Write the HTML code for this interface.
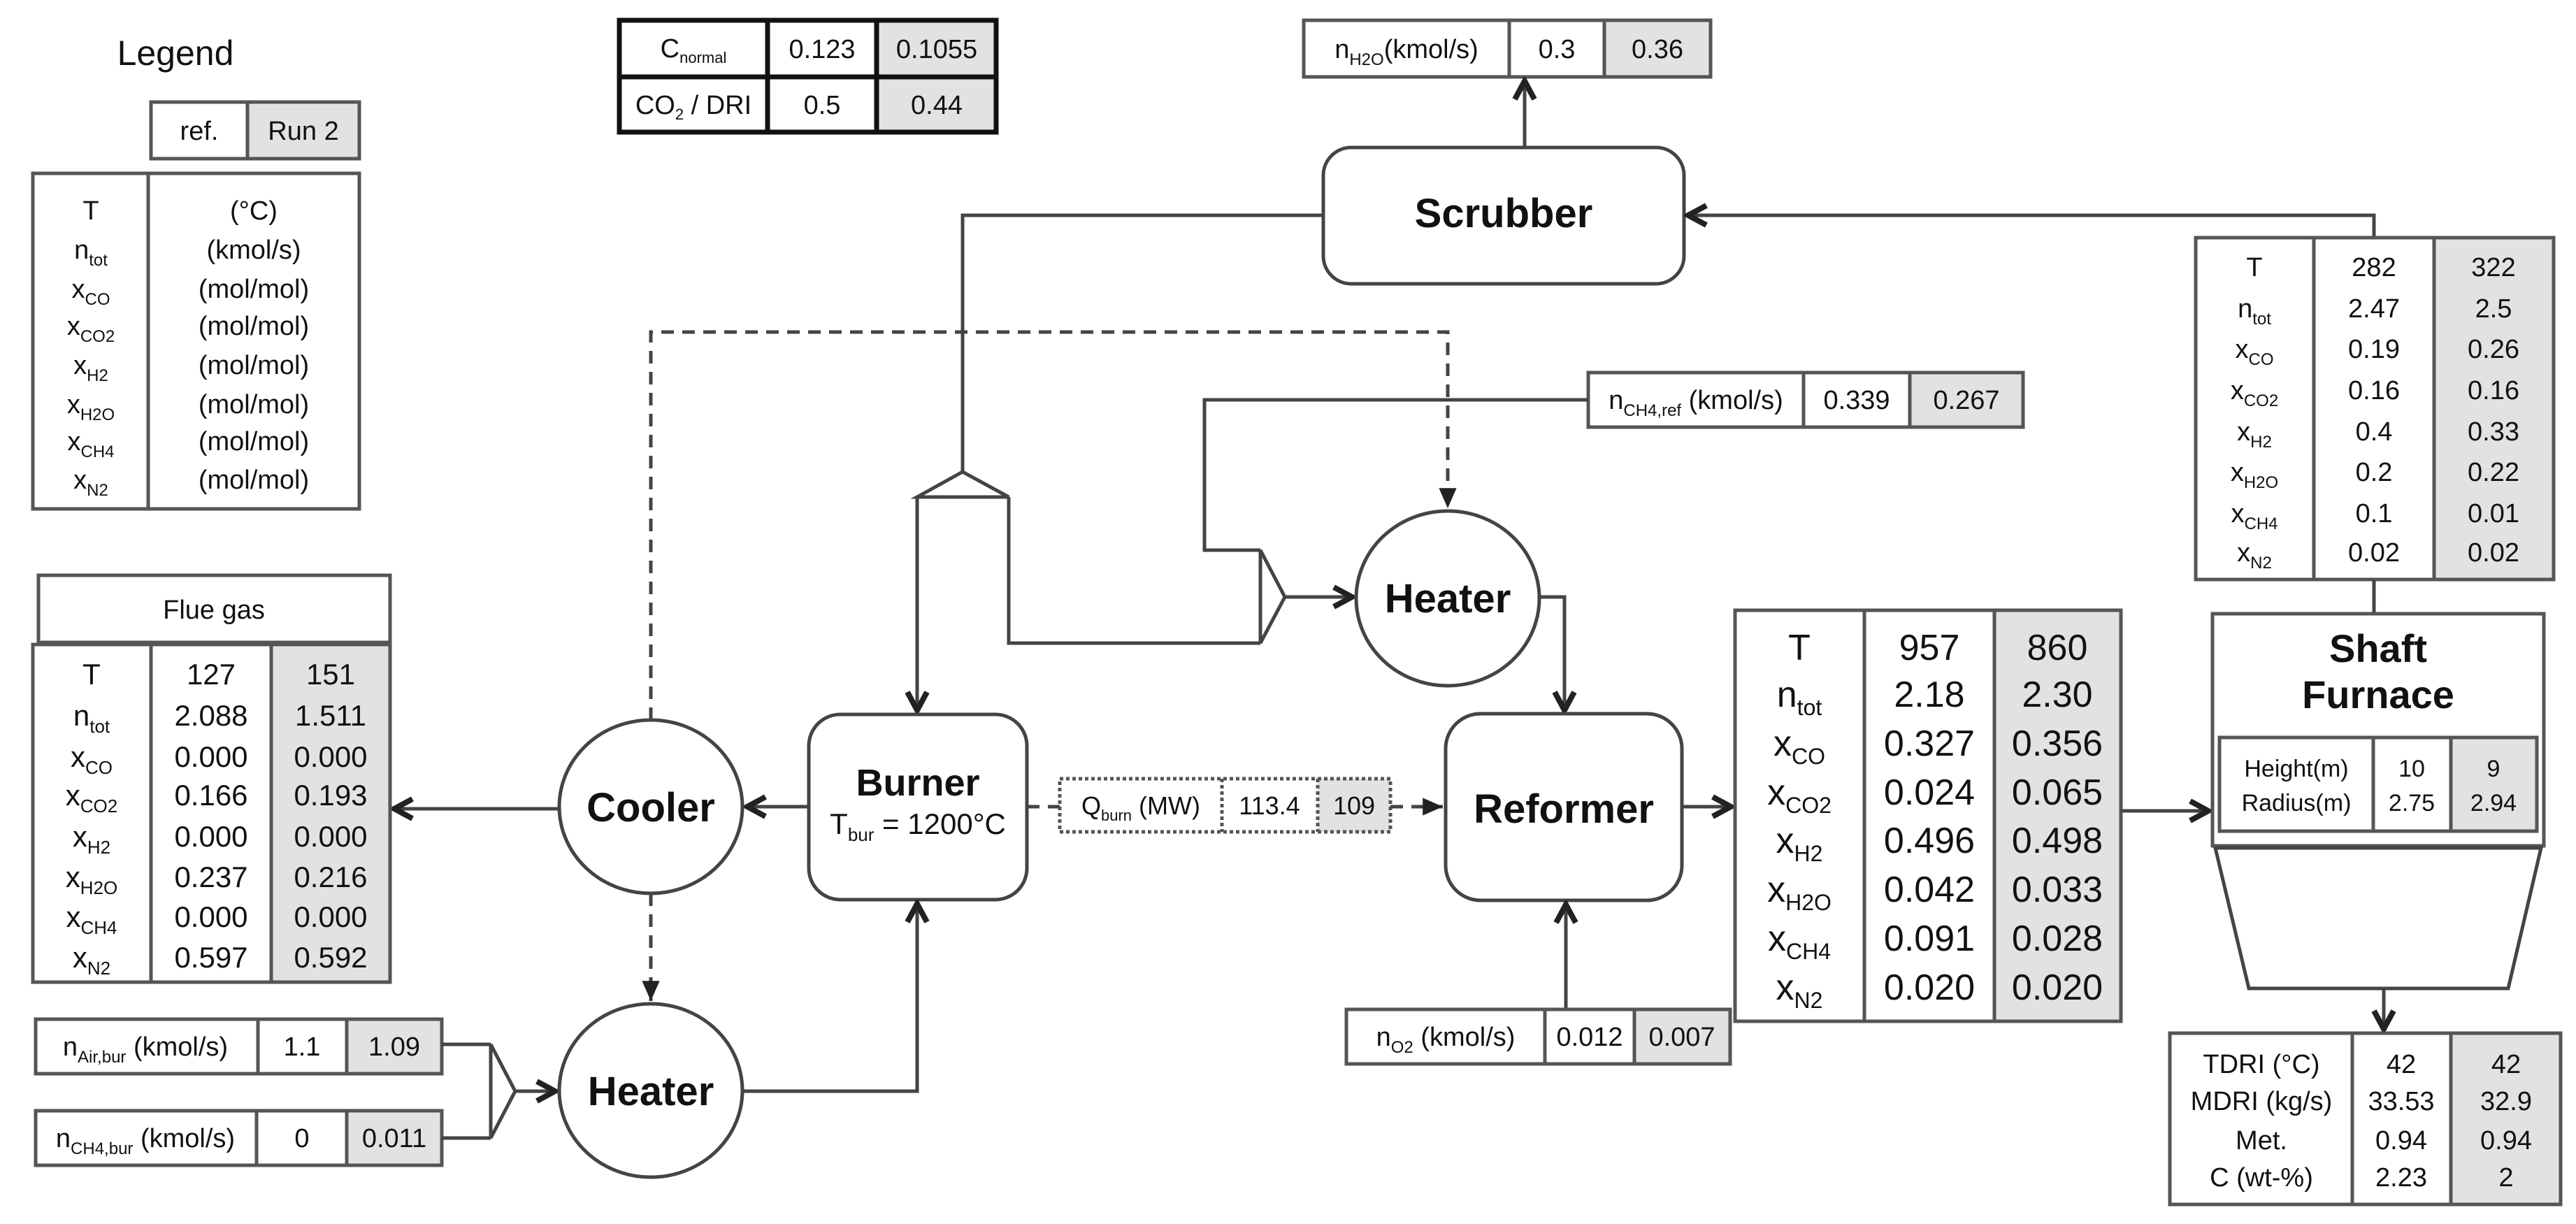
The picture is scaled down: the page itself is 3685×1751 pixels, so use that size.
<!DOCTYPE html>
<html><head><meta charset="utf-8"><style>
html,body{margin:0;padding:0;background:#fff}
svg{display:block}
text{font-family:"Liberation Sans",sans-serif;fill:#111}
.t{font-size:38px;text-anchor:middle}
.b{font-weight:bold;font-size:58px;text-anchor:middle}
.big{font-size:52px;text-anchor:middle}
.ln{stroke:#444;stroke-width:5;fill:none}
.dl{stroke:#444;stroke-width:5;fill:none;stroke-dasharray:18 12}
.tb{stroke:#555;stroke-width:5;fill:none}
.sh{fill:#e2e2e2}
</style></head><body>
<svg width="3685" height="1751" viewBox="0 0 3685 1751" xmlns="http://www.w3.org/2000/svg">
<defs>
<marker id="ar" viewBox="0 0 40 40" refX="36" refY="20" markerWidth="40" markerHeight="40" markerUnits="userSpaceOnUse" orient="auto"><path d="M8,6 L34,20 L8,34" fill="none" stroke="#222" stroke-width="8"/></marker>
<marker id="af" viewBox="0 0 40 40" refX="36" refY="20" markerWidth="36" markerHeight="36" markerUnits="userSpaceOnUse" orient="auto"><path d="M4,6 L36,20 L4,34Z" fill="#222"/></marker>
</defs>

<!-- Legend -->
<text x="251" y="93" style="font-size:50px;text-anchor:middle">Legend</text>
<rect x="354" y="146" width="160" height="81" class="sh"/>
<rect x="216" y="146" width="298" height="81" class="tb"/>
<line x1="354" y1="146" x2="354" y2="227" class="tb"/>
<text x="285" y="200" class="t">ref.</text>
<text x="434" y="200" class="t">Run 2</text>
<rect x="47" y="248" width="467" height="480" class="tb"/>
<line x1="212" y1="248" x2="212" y2="728" class="tb"/>
<g class="t">
<text x="130" y="314" class="t">T</text>
<text x="130" y="370" class="t">n<tspan font-size="24" dy="10">tot</tspan></text>
<text x="130" y="426" class="t">x<tspan font-size="24" dy="10">CO</tspan></text>
<text x="130" y="479" class="t">x<tspan font-size="24" dy="10">CO2</tspan></text>
<text x="130" y="535" class="t">x<tspan font-size="24" dy="10">H2</tspan></text>
<text x="130" y="591" class="t">x<tspan font-size="24" dy="10">H2O</tspan></text>
<text x="130" y="644" class="t">x<tspan font-size="24" dy="10">CH4</tspan></text>
<text x="130" y="699" class="t">x<tspan font-size="24" dy="10">N2</tspan></text>
<text x="363" y="314" class="t">(°C)</text>
<text x="363" y="370" class="t">(kmol/s)</text>
<text x="363" y="426" class="t">(mol/mol)</text>
<text x="363" y="479" class="t">(mol/mol)</text>
<text x="363" y="535" class="t">(mol/mol)</text>
<text x="363" y="591" class="t">(mol/mol)</text>
<text x="363" y="644" class="t">(mol/mol)</text>
<text x="363" y="699" class="t">(mol/mol)</text>
</g>

<!-- Cnormal table -->
<rect x="1254" y="29" width="171" height="160" class="sh"/>
<rect x="886" y="29" width="539" height="160" fill="none" stroke="#111" stroke-width="7"/>
<line x1="886" y1="110" x2="1425" y2="110" stroke="#111" stroke-width="7"/>
<line x1="1098" y1="29" x2="1098" y2="189" stroke="#111" stroke-width="7"/>
<line x1="1254" y1="29" x2="1254" y2="189" stroke="#111" stroke-width="7"/>
<text x="992" y="82" class="t">C<tspan font-size="22" dy="8">normal</tspan></text>
<text x="1176" y="83" class="t">0.123</text>
<text x="1340" y="83" class="t">0.1055</text>
<text x="992" y="163" class="t">CO<tspan font-size="22" dy="8">2</tspan><tspan dy="-8"> / DRI</tspan></text>
<text x="1176" y="163" class="t">0.5</text>
<text x="1340" y="163" class="t">0.44</text>

<!-- nH2O -->
<rect x="2295" y="29" width="152" height="81" class="sh"/>
<rect x="1865" y="29" width="582" height="81" class="tb"/>
<line x1="2159" y1="29" x2="2159" y2="110" class="tb"/>
<line x1="2295" y1="29" x2="2295" y2="110" class="tb"/>
<text x="2012" y="83" class="t">n<tspan font-size="24" dy="10">H2O</tspan><tspan dy="-10">(kmol/s)</tspan></text>
<text x="2227" y="83" class="t">0.3</text>
<text x="2371" y="83" class="t">0.36</text>

<!-- Scrubber -->
<rect x="1893" y="211" width="516" height="195" rx="40" class="ln"/>
<text x="2151" y="325" class="b">Scrubber</text>
<line x1="2181" y1="211" x2="2181" y2="114" class="ln" marker-end="url(#ar)"/>
<polyline points="3396,340 3396,308 2413,308" class="ln" marker-end="url(#ar)"/>
<polyline points="1893,308 1377,308 1377,675" class="ln"/>

<!-- splitter -->
<polygon points="1377,675 1443,711 1312,711" class="ln"/>
<line x1="1312" y1="711" x2="1312" y2="1018" class="ln" marker-end="url(#ar)"/>
<polyline points="1443,711 1443,920 1803,920" class="ln"/>

<!-- dashed loop -->
<polyline points="931,1030 931,475 2071,475 2071,727" class="dl" marker-end="url(#af)"/>
<line x1="931" y1="1278" x2="931" y2="1432" class="dl" marker-end="url(#af)"/>

<!-- nCH4,ref -->
<rect x="2732" y="533" width="162" height="78" class="sh"/>
<rect x="2272" y="533" width="622" height="78" class="tb"/>
<line x1="2580" y1="533" x2="2580" y2="611" class="tb"/>
<line x1="2732" y1="533" x2="2732" y2="611" class="tb"/>
<text x="2426" y="585" class="t">n<tspan font-size="24" dy="10">CH4,ref</tspan><tspan dy="-10"> (kmol/s)</tspan></text>
<text x="2656" y="585" class="t">0.339</text>
<text x="2813" y="585" class="t">0.267</text>
<polyline points="2272,572 1723,572 1723,787 1803,787" class="ln"/>

<!-- mixer top -->
<polygon points="1803,787 1838,854 1803,920" class="ln"/>
<line x1="1838" y1="854" x2="1936" y2="854" class="ln" marker-end="url(#ar)"/>

<!-- Heater2 -->
<ellipse cx="2071" cy="856" rx="131" ry="125" class="ln"/>
<text x="2071" y="876" class="b">Heater</text>
<polyline points="2202,854 2238,854 2238,1018" class="ln" marker-end="url(#ar)"/>

<!-- Reformer -->
<rect x="2068" y="1021" width="338" height="267" rx="50" class="ln"/>
<text x="2237" y="1177" class="b">Reformer</text>
<line x1="2406" y1="1154" x2="2478" y2="1154" class="ln" marker-end="url(#ar)"/>
<line x1="2240" y1="1444" x2="2240" y2="1292" class="ln" marker-end="url(#ar)"/>

<!-- nO2 -->
<rect x="2338" y="1444" width="137" height="78" class="sh"/>
<rect x="1926" y="1444" width="549" height="78" class="tb"/>
<line x1="2210" y1="1444" x2="2210" y2="1522" class="tb"/>
<line x1="2338" y1="1444" x2="2338" y2="1522" class="tb"/>
<text x="2068" y="1496" class="t">n<tspan font-size="24" dy="10">O2</tspan><tspan dy="-10"> (kmol/s)</tspan></text>
<text x="2274" y="1496" class="t">0.012</text>
<text x="2406" y="1496" class="t">0.007</text>

<!-- Reformer output table -->
<rect x="2853" y="873" width="181" height="588" class="sh"/>
<rect x="2482" y="873" width="552" height="588" class="tb"/>
<line x1="2667" y1="873" x2="2667" y2="1461" class="tb"/>
<line x1="2853" y1="873" x2="2853" y2="1461" class="tb"/>
<g>
<text x="2574" y="944" class="big">T</text>
<text x="2574" y="1011" class="big">n<tspan font-size="32" dy="12">tot</tspan></text>
<text x="2574" y="1081" class="big">x<tspan font-size="32" dy="12">CO</tspan></text>
<text x="2574" y="1151" class="big">x<tspan font-size="32" dy="12">CO2</tspan></text>
<text x="2574" y="1220" class="big">x<tspan font-size="32" dy="12">H2</tspan></text>
<text x="2574" y="1290" class="big">x<tspan font-size="32" dy="12">H2O</tspan></text>
<text x="2574" y="1360" class="big">x<tspan font-size="32" dy="12">CH4</tspan></text>
<text x="2574" y="1430" class="big">x<tspan font-size="32" dy="12">N2</tspan></text>
<text x="2760" y="944" class="big">957</text><text x="2943" y="944" class="big">860</text>
<text x="2760" y="1011" class="big">2.18</text><text x="2943" y="1011" class="big">2.30</text>
<text x="2760" y="1081" class="big">0.327</text><text x="2943" y="1081" class="big">0.356</text>
<text x="2760" y="1151" class="big">0.024</text><text x="2943" y="1151" class="big">0.065</text>
<text x="2760" y="1220" class="big">0.496</text><text x="2943" y="1220" class="big">0.498</text>
<text x="2760" y="1290" class="big">0.042</text><text x="2943" y="1290" class="big">0.033</text>
<text x="2760" y="1360" class="big">0.091</text><text x="2943" y="1360" class="big">0.028</text>
<text x="2760" y="1430" class="big">0.020</text><text x="2943" y="1430" class="big">0.020</text>
</g>
<line x1="3034" y1="1160" x2="3161" y2="1160" class="ln" marker-end="url(#ar)"/>

<!-- Top-right table -->
<rect x="3482" y="340" width="171" height="489" class="sh"/>
<rect x="3141" y="340" width="512" height="489" class="tb"/>
<line x1="3310" y1="340" x2="3310" y2="829" class="tb"/>
<line x1="3482" y1="340" x2="3482" y2="829" class="tb"/>
<g>
<text x="3225" y="395" class="t">T</text>
<text x="3225" y="454" class="t">n<tspan font-size="24" dy="10">tot</tspan></text>
<text x="3225" y="512" class="t">x<tspan font-size="24" dy="10">CO</tspan></text>
<text x="3225" y="571" class="t">x<tspan font-size="24" dy="10">CO2</tspan></text>
<text x="3225" y="630" class="t">x<tspan font-size="24" dy="10">H2</tspan></text>
<text x="3225" y="688" class="t">x<tspan font-size="24" dy="10">H2O</tspan></text>
<text x="3225" y="747" class="t">x<tspan font-size="24" dy="10">CH4</tspan></text>
<text x="3225" y="803" class="t">x<tspan font-size="24" dy="10">N2</tspan></text>
<text x="3396" y="395" class="t">282</text><text x="3567" y="395" class="t">322</text>
<text x="3396" y="454" class="t">2.47</text><text x="3567" y="454" class="t">2.5</text>
<text x="3396" y="512" class="t">0.19</text><text x="3567" y="512" class="t">0.26</text>
<text x="3396" y="571" class="t">0.16</text><text x="3567" y="571" class="t">0.16</text>
<text x="3396" y="630" class="t">0.4</text><text x="3567" y="630" class="t">0.33</text>
<text x="3396" y="688" class="t">0.2</text><text x="3567" y="688" class="t">0.22</text>
<text x="3396" y="747" class="t">0.1</text><text x="3567" y="747" class="t">0.01</text>
<text x="3396" y="803" class="t">0.02</text><text x="3567" y="803" class="t">0.02</text>
</g>
<line x1="3396" y1="829" x2="3396" y2="878" class="ln"/>

<!-- Shaft furnace -->
<rect x="3165" y="878" width="474" height="332" class="tb"/>
<text x="3402" y="947" class="b" style="font-size:56px">Shaft</text>
<text x="3402" y="1013" class="b" style="font-size:56px">Furnace</text>
<rect x="3506" y="1055" width="123" height="134" class="sh"/>
<rect x="3175" y="1055" width="454" height="134" class="tb"/>
<line x1="3395" y1="1055" x2="3395" y2="1189" class="tb"/>
<line x1="3506" y1="1055" x2="3506" y2="1189" class="tb"/>
<text x="3285" y="1111" class="t" style="font-size:34px">Height(m)</text>
<text x="3285" y="1160" class="t" style="font-size:34px">Radius(m)</text>
<text x="3450" y="1111" class="t" style="font-size:34px">10</text>
<text x="3450" y="1160" class="t" style="font-size:34px">2.75</text>
<text x="3567" y="1111" class="t" style="font-size:34px">9</text>
<text x="3567" y="1160" class="t" style="font-size:34px">2.94</text>
<polygon points="3169,1213 3635,1213 3588,1414 3217,1414" class="ln"/>
<line x1="3410" y1="1414" x2="3410" y2="1474" class="ln" marker-end="url(#ar)"/>

<!-- bottom right table -->
<rect x="3506" y="1478" width="157" height="245" class="sh"/>
<rect x="3104" y="1478" width="559" height="245" class="tb"/>
<line x1="3365" y1="1478" x2="3365" y2="1723" class="tb"/>
<line x1="3506" y1="1478" x2="3506" y2="1723" class="tb"/>
<text x="3235" y="1535" class="t">TDRI (°C)</text>
<text x="3235" y="1588" class="t">MDRI (kg/s)</text>
<text x="3235" y="1644" class="t">Met.</text>
<text x="3235" y="1697" class="t">C (wt-%)</text>
<text x="3435" y="1535" class="t">42</text><text x="3585" y="1535" class="t">42</text>
<text x="3435" y="1588" class="t">33.53</text><text x="3585" y="1588" class="t">32.9</text>
<text x="3435" y="1644" class="t">0.94</text><text x="3585" y="1644" class="t">0.94</text>
<text x="3435" y="1697" class="t">2.23</text><text x="3585" y="1697" class="t">2</text>

<!-- Burner -->
<rect x="1157" y="1022" width="312" height="265" rx="45" class="ln"/>
<text x="1313" y="1138" class="b" style="font-size:54px">Burner</text>
<text x="1313" y="1193" class="t" style="font-size:42px">T<tspan font-size="26" dy="10">bur</tspan><tspan dy="-10"> = 1200°C</tspan></text>
<line x1="1157" y1="1154" x2="1067" y2="1154" class="ln" marker-end="url(#ar)"/>

<!-- Qburn -->
<rect x="1885" y="1114" width="104" height="76" class="sh"/>
<rect x="1516" y="1114" width="473" height="76" fill="none" stroke="#555" stroke-width="5" stroke-dasharray="5 4"/>
<line x1="1748" y1="1114" x2="1748" y2="1190" stroke="#555" stroke-width="5" stroke-dasharray="5 4"/>
<line x1="1885" y1="1114" x2="1885" y2="1190" stroke="#555" stroke-width="5" stroke-dasharray="5 4"/>
<text x="1632" y="1165" class="t" style="font-size:36px">Q<tspan font-size="22" dy="9">burn</tspan><tspan dy="-9"> (MW)</tspan></text>
<text x="1816" y="1165" class="t" style="font-size:36px">113.4</text>
<text x="1937" y="1165" class="t" style="font-size:36px">109</text>
<line x1="1469" y1="1154" x2="1516" y2="1154" class="dl" stroke-dasharray="14 10"/>
<line x1="1989" y1="1154" x2="2064" y2="1154" class="dl" stroke-dasharray="14 10" marker-end="url(#af)"/>

<!-- Cooler -->
<ellipse cx="931" cy="1154" rx="131" ry="124" class="ln"/>
<text x="931" y="1175" class="b">Cooler</text>
<line x1="800" y1="1157" x2="562" y2="1157" class="ln" marker-end="url(#ar)"/>

<!-- Flue gas -->
<rect x="55" y="823" width="503" height="96" class="tb"/>
<text x="306" y="885" class="t">Flue gas</text>
<rect x="388" y="922" width="170" height="483" class="sh"/>
<rect x="47" y="922" width="511" height="483" class="tb"/>
<line x1="216" y1="922" x2="216" y2="1405" class="tb"/>
<line x1="388" y1="922" x2="388" y2="1405" class="tb"/>
<g>
<text x="131" y="979" class="t" style="font-size:42px">T</text>
<text x="131" y="1038" class="t" style="font-size:42px">n<tspan font-size="26" dy="10">tot</tspan></text>
<text x="131" y="1097" class="t" style="font-size:42px">x<tspan font-size="26" dy="10">CO</tspan></text>
<text x="131" y="1152" class="t" style="font-size:42px">x<tspan font-size="26" dy="10">CO2</tspan></text>
<text x="131" y="1211" class="t" style="font-size:42px">x<tspan font-size="26" dy="10">H2</tspan></text>
<text x="131" y="1269" class="t" style="font-size:42px">x<tspan font-size="26" dy="10">H2O</tspan></text>
<text x="131" y="1326" class="t" style="font-size:42px">x<tspan font-size="26" dy="10">CH4</tspan></text>
<text x="131" y="1384" class="t" style="font-size:42px">x<tspan font-size="26" dy="10">N2</tspan></text>
<text x="302" y="979" class="t" style="font-size:42px">127</text><text x="473" y="979" class="t" style="font-size:42px">151</text>
<text x="302" y="1038" class="t" style="font-size:42px">2.088</text><text x="473" y="1038" class="t" style="font-size:42px">1.511</text>
<text x="302" y="1097" class="t" style="font-size:42px">0.000</text><text x="473" y="1097" class="t" style="font-size:42px">0.000</text>
<text x="302" y="1152" class="t" style="font-size:42px">0.166</text><text x="473" y="1152" class="t" style="font-size:42px">0.193</text>
<text x="302" y="1211" class="t" style="font-size:42px">0.000</text><text x="473" y="1211" class="t" style="font-size:42px">0.000</text>
<text x="302" y="1269" class="t" style="font-size:42px">0.237</text><text x="473" y="1269" class="t" style="font-size:42px">0.216</text>
<text x="302" y="1326" class="t" style="font-size:42px">0.000</text><text x="473" y="1326" class="t" style="font-size:42px">0.000</text>
<text x="302" y="1384" class="t" style="font-size:42px">0.597</text><text x="473" y="1384" class="t" style="font-size:42px">0.592</text>
</g>

<!-- nAir,bur & nCH4,bur -->
<rect x="496" y="1458" width="136" height="78" class="sh"/>
<rect x="51" y="1458" width="581" height="78" class="tb"/>
<line x1="369" y1="1458" x2="369" y2="1536" class="tb"/>
<line x1="496" y1="1458" x2="496" y2="1536" class="tb"/>
<text x="208" y="1510" class="t">n<tspan font-size="24" dy="10">Air,bur</tspan><tspan dy="-10"> (kmol/s)</tspan></text>
<text x="432" y="1510" class="t">1.1</text>
<text x="564" y="1510" class="t">1.09</text>
<rect x="496" y="1589" width="136" height="78" class="sh"/>
<rect x="51" y="1589" width="581" height="78" class="tb"/>
<line x1="367" y1="1589" x2="367" y2="1667" class="tb"/>
<line x1="496" y1="1589" x2="496" y2="1667" class="tb"/>
<text x="208" y="1641" class="t">n<tspan font-size="24" dy="10">CH4,bur</tspan><tspan dy="-10"> (kmol/s)</tspan></text>
<text x="432" y="1641" class="t">0</text>
<text x="564" y="1641" class="t">0.011</text>
<polyline points="632,1494 702,1494" class="ln"/>
<polyline points="632,1628 702,1628" class="ln"/>
<polygon points="702,1494 737,1561 702,1628" class="ln"/>
<line x1="737" y1="1561" x2="796" y2="1561" class="ln" marker-end="url(#ar)"/>

<!-- Heater1 -->
<ellipse cx="931" cy="1560" rx="131" ry="124" class="ln"/>
<text x="931" y="1581" class="b">Heater</text>
<polyline points="1062,1561 1312,1561 1312,1291" class="ln" marker-end="url(#ar)"/>
</svg>
</body></html>
